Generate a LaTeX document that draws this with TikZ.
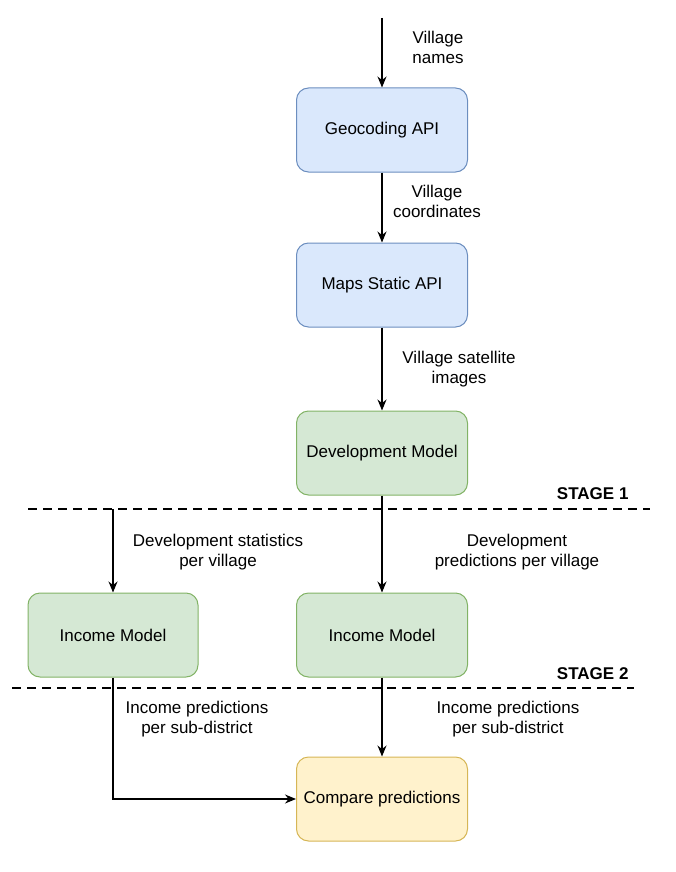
\documentclass[tikz,border=0pt]{standalone}
\usepackage{fontspec}
\setmainfont{Liberation Sans}
\usetikzlibrary{arrows.meta,positioning}

\definecolor{bluefill}{HTML}{DAE8FC}
\definecolor{bluedraw}{HTML}{6C8EBF}
\definecolor{greenfill}{HTML}{D5E8D4}
\definecolor{greendraw}{HTML}{82B366}
\definecolor{yellowfill}{HTML}{FFF2CC}
\definecolor{yellowdraw}{HTML}{D6B656}

\tikzset{
    box/.style={rectangle, draw, rounded corners=12pt, line width=1pt, minimum width=171pt, minimum height=84pt, font=\fontsize{17}{20}\selectfont},
    flow/.style={draw, line width=1.2pt, -{Stealth[length=11pt, width=9pt]}},
    lbl/.style={align=center, font=\fontsize{17}{20}\selectfont},
    stageline/.style={line width=2.2pt, dash pattern=on 9pt off 6pt}
}

\begin{document}
\begin{tikzpicture}[x=1pt, y=-1pt]
    \useasboundingbox (0,0) rectangle (676,872);
    \def\cx{382}
    \def\lx{113}
    \node(geo) [box, fill=bluefill, draw=bluedraw] at (\cx,130) {Geocoding API};
    \node(maps) [box, fill=bluefill, draw=bluedraw] at (\cx,285) {Maps Static API};
    \node(dev) [box, fill=greenfill, draw=greendraw] at (\cx,453) {Development Model};
    \node(inc1) [box, fill=greenfill, draw=greendraw, minimum width=170pt] at (\lx,635) {Income Model};
    \node(inc2) [box, fill=greenfill, draw=greendraw] at (\cx,635) {Income Model};
    \node(cmp) [box, fill=yellowfill, draw=yellowdraw] at (\cx,799) {Compare predictions};

    % stage separators
    \draw[stageline] (28,509) -- (650,509);
    \draw[stageline] (12,688) -- (634,688);
    \node(s1) [lbl, anchor=east, font=\fontsize{17}{20}\selectfont\bfseries] at (632,494) {STAGE 1};
    \node(s2) [lbl, anchor=east, font=\fontsize{17}{20}\selectfont\bfseries] at (632,674) {STAGE 2};

    \coordinate(in) at (\cx,18);
    \coordinate(split) at (\lx,509);
    \coordinate(turn) at (\lx,799);

    \draw[flow] (in) -- (geo);
    \draw[flow] (geo) -- (maps);
    \draw[flow] (maps) -- (dev);
    \draw[flow] (dev) -- (inc2);
    \draw[flow] (split) -- (inc1);
    \draw[flow] (inc2) -- (cmp);
    \draw[flow] (inc1.south) -- (turn) -- (cmp.west);

    \node(l1) [lbl] at (438,47) {Village\\names};
    \node(l2) [lbl] at (437,201) {Village\\coordinates};
    \node(l3) [lbl] at (459,369) {Village satellite\\images};
    \node(l4) [lbl] at (218,552) {Development statistics\\per village};
    \node(l5) [lbl] at (517,552) {Development\\predictions per village};
    \node(l6) [lbl] at (197,719) {Income predictions\\per sub-district};
    \node(l7) [lbl] at (508,719) {Income predictions\\per sub-district};
\end{tikzpicture}
\end{document}
